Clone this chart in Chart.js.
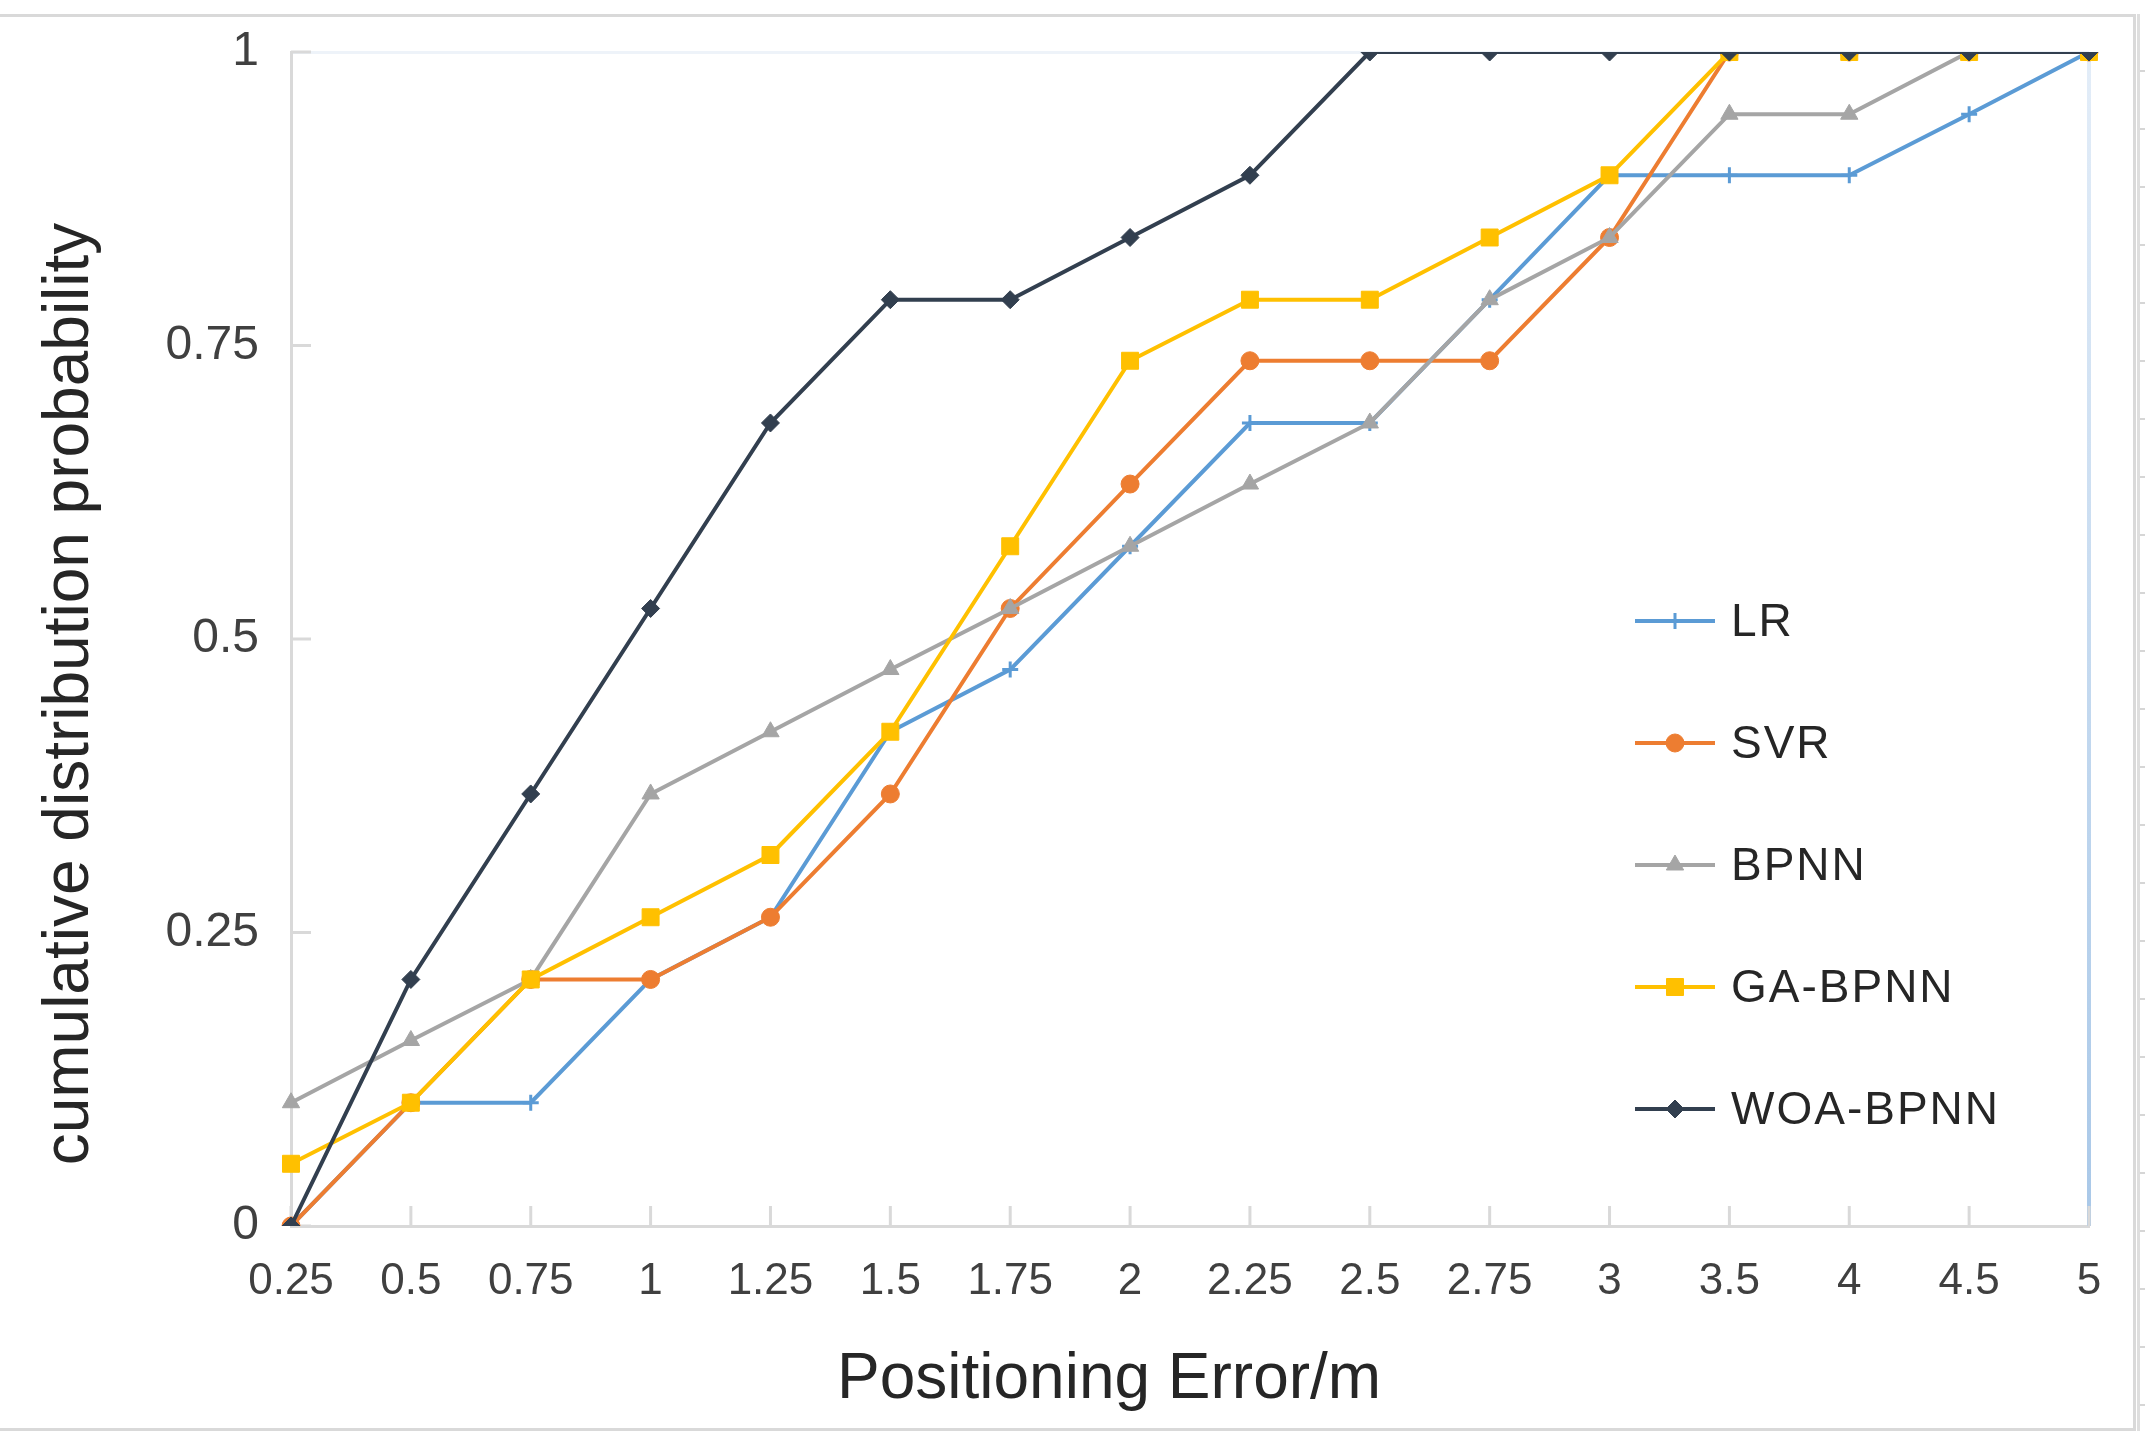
<!DOCTYPE html>
<html>
<head>
<meta charset="utf-8">
<script src="https://cdn.jsdelivr.net/npm/chart.js@4.4.1/dist/chart.umd.min.js"></script>
<style>
html, body { margin: 0; padding: 0; background: #fff; overflow: hidden; }
#wrap { position: relative; width: 2153px; height: 1448px; }
#cdfChart { position: absolute; left: 0; top: 0; }
#frame { position: absolute; left: -3px; top: 14px; width: 2139px; height: 1417px; border: 3px solid #d9d9d9; box-sizing: border-box; pointer-events: none; }
#ruler { position: absolute; left: 2137px; top: 14px; width: 5px; height: 1417px; border-left: 3px solid #dedede; pointer-events: none;
  background: repeating-linear-gradient(to bottom, transparent 0, transparent 56px, #d6d6d6 56px, #d6d6d6 58px); }
</style>
</head>
<body>
<div id="wrap">
  <canvas id="cdfChart" width="2153" height="1448"></canvas>
  <div id="frame"></div>
  <div id="ruler"></div>
</div>
<script>
// 데이터
const errorLabels = ['0.25', '0.5', '0.75', '1', '1.25', '1.5', '1.75', '2', '2.25', '2.5', '2.75', '3', '3.5', '4', '4.5', '5'];
const lrValues   = [0, 0.105, 0.105, 0.21, 0.263, 0.421, 0.474, 0.579, 0.684, 0.684, 0.789, 0.895, 0.895, 0.895, 0.947, 1];
const svrValues  = [0, 0.105, 0.21, 0.21, 0.263, 0.368, 0.526, 0.632, 0.737, 0.737, 0.737, 0.842, 1, 1, 1, 1];
const bpnnValues = [0.105, 0.158, 0.21, 0.368, 0.421, 0.474, 0.526, 0.579, 0.632, 0.684, 0.789, 0.842, 0.947, 0.947, 1, 1];
const gaValues   = [0.053, 0.105, 0.21, 0.263, 0.316, 0.421, 0.579, 0.737, 0.789, 0.789, 0.842, 0.895, 1, 1, 1, 1];
const woaValues  = [0, 0.21, 0.368, 0.526, 0.684, 0.789, 0.789, 0.842, 0.895, 1, 1, 1, 1, 1, 1, 1];
const yStep = 0.25;

const FONT = '"Liberation Sans", Arial, sans-serif';

function series(label, values, color, style, radius, order) {
    return {
        label: label,
        data: values,
        borderColor: color,
        backgroundColor: color,
        borderWidth: 4,
        tension: 0,
        pointStyle: style,
        pointRadius: radius,
        pointBackgroundColor: color,
        pointBorderColor: color,
        pointBorderWidth: style === 'cross' ? 3 : 1,
        order: order
    };
}

// 범례 + 축 제목 + 안쪽 눈금
const extras = {
    id: 'extras',
    beforeDatasetsDraw(chart) {
        const { ctx, chartArea: a, scales: { x, y } } = chart;
        ctx.save();
        const g = ctx.createLinearGradient(0, a.top, 0, a.bottom);
        g.addColorStop(0, '#e3edf8');
        g.addColorStop(1, '#a9c8e8');
        ctx.strokeStyle = g;
        ctx.lineWidth = 4;
        ctx.beginPath();
        ctx.moveTo(a.right, a.top);
        ctx.lineTo(a.right, a.bottom);
        ctx.stroke();

        ctx.strokeStyle = '#d9d9d9';
        ctx.lineWidth = 3;
        x.ticks.forEach((t, i) => {
            const px = x.getPixelForTick(i);
            ctx.beginPath();
            ctx.moveTo(px, a.bottom);
            ctx.lineTo(px, a.bottom - 20);
            ctx.stroke();
        });
        y.ticks.forEach((t, i) => {
            const py = y.getPixelForTick(i);
            ctx.beginPath();
            ctx.moveTo(a.left, py);
            ctx.lineTo(a.left + 20, py);
            ctx.stroke();
        });
        ctx.restore();
    },
    afterDraw(chart) {
        const { ctx, chartArea: a } = chart;
        ctx.save();

        // legend
        const lineStart = a.right - 454, lineEnd = a.right - 374, textX = a.right - 358;
        chart.data.datasets.forEach((ds, i) => {
            const ly = a.top + 569 + i * 122;
            ctx.strokeStyle = ds.borderColor;
            ctx.lineWidth = ds.borderWidth;
            ctx.beginPath();
            ctx.moveTo(lineStart, ly);
            ctx.lineTo(lineEnd, ly);
            ctx.stroke();
            ctx.fillStyle = ds.pointBackgroundColor;
            ctx.strokeStyle = ds.pointBorderColor;
            ctx.lineWidth = ds.pointBorderWidth;
            Chart.helpers.drawPoint(ctx, {
                pointStyle: ds.pointStyle,
                radius: ds.pointRadius,
                rotation: 0,
                borderWidth: ds.pointBorderWidth
            }, (lineStart + lineEnd) / 2, ly);

            ctx.fillStyle = '#262626';
            ctx.font = '46px ' + FONT;
            ctx.letterSpacing = '2px';
            ctx.textAlign = 'left';
            ctx.textBaseline = 'middle';
            ctx.fillText(ds.label, textX, ly + 2);
        });
        ctx.letterSpacing = '0px';

        // axis titles
        ctx.fillStyle = '#262626';
        ctx.font = '64px ' + FONT;
        ctx.textAlign = 'center';
        ctx.textBaseline = 'alphabetic';
        ctx.fillText('Positioning Error/m', a.left + 0.455 * a.width, 1398);

        ctx.translate(88, 694);
        ctx.rotate(-Math.PI / 2);
        ctx.fillText('cumulative distribution probability', 0, 0);
        ctx.restore();
    }
};

const ctx = document.getElementById('cdfChart').getContext('2d');

const cdfChart = new Chart(ctx, {
    type: 'line',
    data: {
        labels: errorLabels,
        datasets: [
            series('LR', lrValues, '#5b9bd5', 'cross', 8, 5),
            series('SVR', svrValues, '#ed7d31', 'circle', 9, 4),
            series('BPNN', bpnnValues, '#a5a5a5', 'triangle', 10, 3),
            series('GA-BPNN', gaValues, '#ffc000', 'rect', 12, 2),
            series('WOA-BPNN', woaValues, '#323f4f', 'rectRot', 9, 1)
        ]
    },
    options: {
        responsive: false,
        animation: false,
        devicePixelRatio: 1,
        layout: { padding: { top: 52, right: 64, bottom: 0, left: 0 } },
        plugins: {
            legend: { display: false },
            tooltip: { enabled: false }
        },
        scales: {
            x: {
                type: 'category',
                offset: false,
                grid: { display: false },
                border: { color: '#d9d9d9', width: 3 },
                ticks: {
                    color: '#404040',
                    font: { family: FONT, size: 44 },
                    padding: 21,
                    maxRotation: 0,
                    autoSkip: false
                },
                afterFit(scale) {
                    scale.height = 222;
                    scale.paddingLeft = 0;
                    scale.paddingRight = 0;
                }
            },
            y: {
                min: 0,
                max: 1,
                grid: {
                    drawTicks: false,
                    lineWidth: 3,
                    color: c => (c.tick && c.tick.value === 1) ? '#eef3f9' : 'rgba(0,0,0,0)'
                },
                border: { color: '#d9d9d9', width: 3 },
                ticks: {
                    stepSize: yStep,
                    color: '#404040',
                    font: { family: FONT, size: 48 },
                    padding: 32,
                    callback: v => String(Math.round(v * 100) / 100)
                },
                afterFit(scale) {
                    scale.width = 291;
                    scale.paddingTop = 0;
                    scale.paddingBottom = 0;
                }
            }
        }
    },
    plugins: [extras]
});
</script>
</body>
</html>
